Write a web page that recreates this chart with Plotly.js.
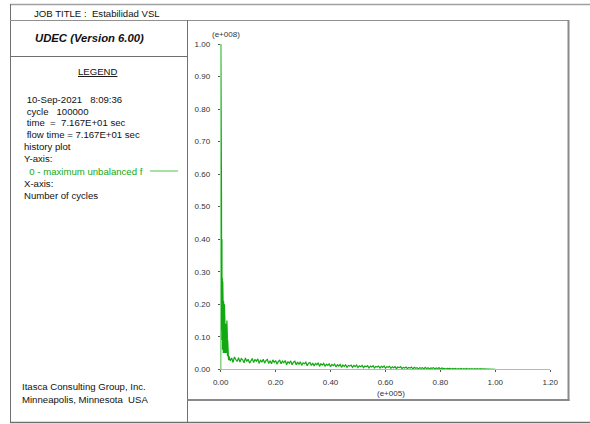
<!DOCTYPE html>
<html>
<head>
<meta charset="utf-8">
<script src="https://cdn.plot.ly/plotly-3.0.1.min.js"></script>
<style>html,body{margin:0;padding:0;background:#fff;}#chart{width:590px;height:424px;}</style>
</head>
<body>
<div id="chart"></div>
<script>
// Number of cycles (x 1e5) and maximum unbalanced force (x 1e8)
var cycles = [
0.0000,0.0005,0.0010,0.0015,0.0020,0.0030,0.0035,0.0045,0.0050,0.0060,
0.0065,0.0075,0.0080,0.0090,0.0095,0.0105,0.0110,0.0120,0.0125,0.0135,
0.0140,0.0150,0.0155,0.0165,0.0170,0.0180,0.0185,0.0195,0.0200,0.0210,
0.0215,0.0225,0.0230,0.0240,0.0245,0.0255,0.0260,0.0270,0.0280,0.0290,
0.030,0.035,0.040,0.045,0.050,0.055,0.060,0.065,0.070,0.075,
0.080,0.085,0.090,0.095,0.100,0.105,0.110,0.115,0.120,0.125,
0.130,0.135,0.140,0.145,0.150,0.155,0.160,0.165,0.170,0.175,
0.180,0.185,0.190,0.195,0.200,0.205,0.210,0.215,0.220,0.225,
0.230,0.235,0.240,0.245,0.250,0.255,0.260,0.265,0.270,0.275,
0.280,0.285,0.290,0.295,0.300,0.305,0.310,0.315,0.320,0.325,
0.330,0.335,0.340,0.345,0.350,0.355,0.360,0.365,0.370,0.375,
0.380,0.385,0.390,0.395,0.400,0.405,0.410,0.415,0.420,0.425,
0.430,0.435,0.440,0.445,0.450,0.455,0.460,0.465,0.470,0.475,
0.480,0.485,0.490,0.495,0.500,0.505,0.510,0.515,0.520,0.525,
0.530,0.535,0.540,0.545,0.550,0.555,0.560,0.565,0.570,0.575,
0.580,0.585,0.590,0.595,0.600,0.605,0.610,0.615,0.620,0.625,
0.630,0.635,0.640,0.645,0.650,0.655,0.660,0.665,0.670,0.675,
0.680,0.685,0.690,0.695,0.700,0.705,0.710,0.715,0.720,0.725,
0.730,0.735,0.740,0.745,0.750,0.755,0.760,0.765,0.770,0.775,
0.780,0.785,0.790,0.795,0.800,0.805,0.810,0.815,0.820,0.825,
0.830,0.835,0.840,0.845,0.850,0.855,0.860,0.865,0.870,0.875,
0.880,0.885,0.890,0.895,0.900,0.905,0.910,0.915,0.920,0.925,
0.930,0.935,0.940,0.945,0.950,0.955,0.960,0.965,0.970,0.975,
0.980,0.985,0.990,0.995,1.000
];
var unbalanced = [
0.00,1.00,0.30,0.93,0.18,0.53,0.12,0.40,0.09,0.28,
0.06,0.27,0.08,0.19,0.05,0.21,0.07,0.18,0.05,0.20,
0.08,0.16,0.05,0.13,0.07,0.14,0.05,0.11,0.07,0.10,
0.05,0.15,0.06,0.11,0.04,0.09,0.04,0.06,0.035,0.028,
0.040,0.026,0.035,0.021,0.038,0.030,0.024,0.036,0.022,0.033,
0.029,0.020,0.035,0.024,0.031,0.019,0.028,0.033,0.021,0.030,
0.025,0.032,0.018,0.029,0.022,0.031,0.019,0.027,0.030,0.018,
0.026,0.017,0.029,0.021,0.027,0.016,0.024,0.028,0.017,0.025,
0.020,0.027,0.014,0.024,0.018,0.026,0.014,0.022,0.025,0.014,
0.022,0.015,0.023,0.012,0.020,0.017,0.022,0.011,0.019,0.021,
0.012,0.019,0.010,0.018,0.014,0.020,0.009,0.017,0.013,0.018,
0.009,0.016,0.012,0.017,0.008,0.015,0.011,0.016,0.007,0.014,
0.010,0.015,0.006,0.013,0.009,0.014,0.006,0.012,0.010,0.013,
0.006,0.012,0.008,0.013,0.005,0.011,0.008,0.012,0.005,0.010,
0.008,0.011,0.004,0.010,0.007,0.011,0.004,0.009,0.007,0.010,
0.004,0.009,0.006,0.010,0.003,0.008,0.006,0.009,0.003,0.008,
0.005,0.008,0.002,0.007,0.005,0.008,0.002,0.006,0.004,0.007,
0.002,0.006,0.004,0.007,0.001,0.006,0.003,0.005,0.001,0.005,
0.003,0.005,0.001,0.006,0.002,0.005,0.001,0.004,0.003,0.005,
0.001,0.004,0.002,0.005,0.000,0.004,0.002,0.003,0.000,0.003,
0.002,0.003,0.000,0.003,0.001,0.003,0.000,0.002,0.001,0.003,
0.000,0.002,0.001,0.003,0.000,0.002,0.001,0.002,0.000,0.002,
0.001,0.002,0.000,0.002,0.001,0.001,0.000,0.002,0.000,0.001,
0.000,0.001,0.000,0.001,0.000
];
var xTicks = [0.0,0.2,0.4,0.6,0.8,1.0,1.2];
var xTickLabels = ["0.00","0.20","0.40","0.60","0.80","1.00","1.20"];
var yTicks = [0.0,0.1,0.2,0.3,0.4,0.5,0.6,0.7,0.8,0.9,1.0];
var yTickLabels = ["0.00","0.10","0.20","0.30","0.40","0.50","0.60","0.70","0.80","0.90","1.00"];
var xExponent = "(e+005)";
var yExponent = "(e+008)";
var jobTitle = "JOB TITLE :\u00a0 Estabilidad VSL";
var codeTitle = "UDEC (Version 6.00)";
var legendLines = [
  "\u00a010-Sep-2021 \u00a0 8:09:36",
  "\u00a0cycle \u00a0 100000",
  "\u00a0time \u00a0= \u00a07.167E+01 sec",
  "\u00a0flow time = 7.167E+01 sec",
  "history plot",
  "Y-axis:",
  "\u00a0 0 - maximum unbalanced f",
  "X-axis:",
  "Number of cycles"
];
var footerLines = ["Itasca Consulting Group, Inc.", "Minneapolis, Minnesota \u00a0USA"];

var W = 590, H = 424;
function px(x){ return x / W; }
function py(y){ return 1 - y / H; }

var green = "#12a812";
var lightGreen = "#86d886";
var frame = "#808080";
var font = "Liberation Sans, Arial, sans-serif";

var trace = {
  x: cycles, y: unbalanced, type: "scatter", mode: "lines",
  line: {color: green, width: 1.2}, hoverinfo: "skip", showlegend: false
};

var xDom = [px(220.7), px(550.2)];
var yDom = [py(369.3), py(44.0)];

var axisCommon = {
  showgrid: false, zeroline: false, fixedrange: true,
  tickfont: {family: font, size: 8, color: "#333"},
  tickcolor: "#555", tickwidth: 1
};

var layout = {
  width: W, height: H, autosize: false,
  margin: {l: 0, r: 0, t: 0, b: 0, pad: 0},
  paper_bgcolor: "#fff", plot_bgcolor: "rgba(0,0,0,0)",
  showlegend: false,
  xaxis: Object.assign({}, axisCommon, {
    domain: xDom, range: [0, 1.2], anchor: "y",
    tickvals: xTicks, ticktext: xTickLabels,
    ticks: "outside", ticklen: 2, ticklabelstandoff: 3,
    showline: true, linecolor: lightGreen, linewidth: 1
  }),
  yaxis: Object.assign({}, axisCommon, {
    domain: yDom, range: [0, 1.0], anchor: "x",
    tickvals: yTicks, ticktext: yTickLabels,
    ticks: "outside", ticklen: 2, ticklabelstandoff: 6,
    showline: true, linecolor: lightGreen, linewidth: 1
  }),
  xaxis2: Object.assign({}, axisCommon, {
    domain: xDom, range: [0, 1.2], anchor: "y", overlaying: "x", side: "bottom",
    tickvals: xTicks, ticks: "inside", ticklen: 2, showticklabels: false, showline: false
  }),
  yaxis2: Object.assign({}, axisCommon, {
    domain: yDom, range: [0, 1.0], anchor: "x", overlaying: "y", side: "left",
    tickvals: yTicks, ticks: "inside", ticklen: 2, showticklabels: false, showline: false
  }),
  shapes: [],
  annotations: []
};

function hline(y, x0, x1, w, c){
  layout.shapes.push({type: "line", xref: "paper", yref: "paper",
    x0: px(x0), x1: px(x1), y0: py(y), y1: py(y), line: {color: c || frame, width: w || 1}});
}
function vline(x, y0, y1, w, c){
  layout.shapes.push({type: "line", xref: "paper", yref: "paper",
    x0: px(x), x1: px(x), y0: py(y0), y1: py(y1), line: {color: c || frame, width: w || 1}});
}
function text(t, x, y, opts){
  opts = opts || {};
  layout.annotations.push({
    text: t, xref: "paper", yref: "paper", x: px(x), y: py(y),
    xanchor: opts.xanchor || "left", yanchor: "middle", showarrow: false,
    borderpad: 0, borderwidth: 0,
    font: {family: font, size: opts.size || 9.6, color: opts.color || "#111"}
  });
}

// frame
hline(4.5, 10, 590, 1.5, "#a0a0a0");
vline(10.5, 4, 423, 1, "#707070");
hline(422.5, 10, 590, 1.5, "#707070");
hline(20.5, 10, 569, 1, "#909090");
vline(187.5, 20, 423, 1, "#707070");
hline(56.5, 10, 187.5, 1, "#707070");
vline(568.5, 20, 401, 2, "#8a8a8a");
hline(400, 187.5, 569.5, 2, "#8a8a8a");

// texts
text(jobTitle, 34, 13.5);
text("<b><i>" + codeTitle + "</i></b>", 35, 38, {size: 11.3});
text("<u>LEGEND</u>", 98, 72, {xanchor: "center"});
var ly = [99.5, 111, 122.5, 134.5, 146.5, 158.5, 171, 183, 195];
for (var i = 0; i < legendLines.length; i++) {
  text(legendLines[i], 23.5, ly[i], {color: i === 6 ? green : "#111"});
}
layout.shapes.push({type: "line", xref: "paper", yref: "paper",
  x0: px(150), x1: px(178), y0: py(171), y1: py(171), line: {color: "#4cc24c", width: 1}});
text(footerLines[0], 22, 386.5);
text(footerLines[1], 22, 399.5);
text(yExponent, 226, 35, {xanchor: "center", size: 8, color: "#333"});
text(xExponent, 391, 393, {xanchor: "center", size: 8, color: "#333"});

Plotly.newPlot("chart", [trace], layout, {staticPlot: true, displayModeBar: false});
</script>
</body>
</html>
